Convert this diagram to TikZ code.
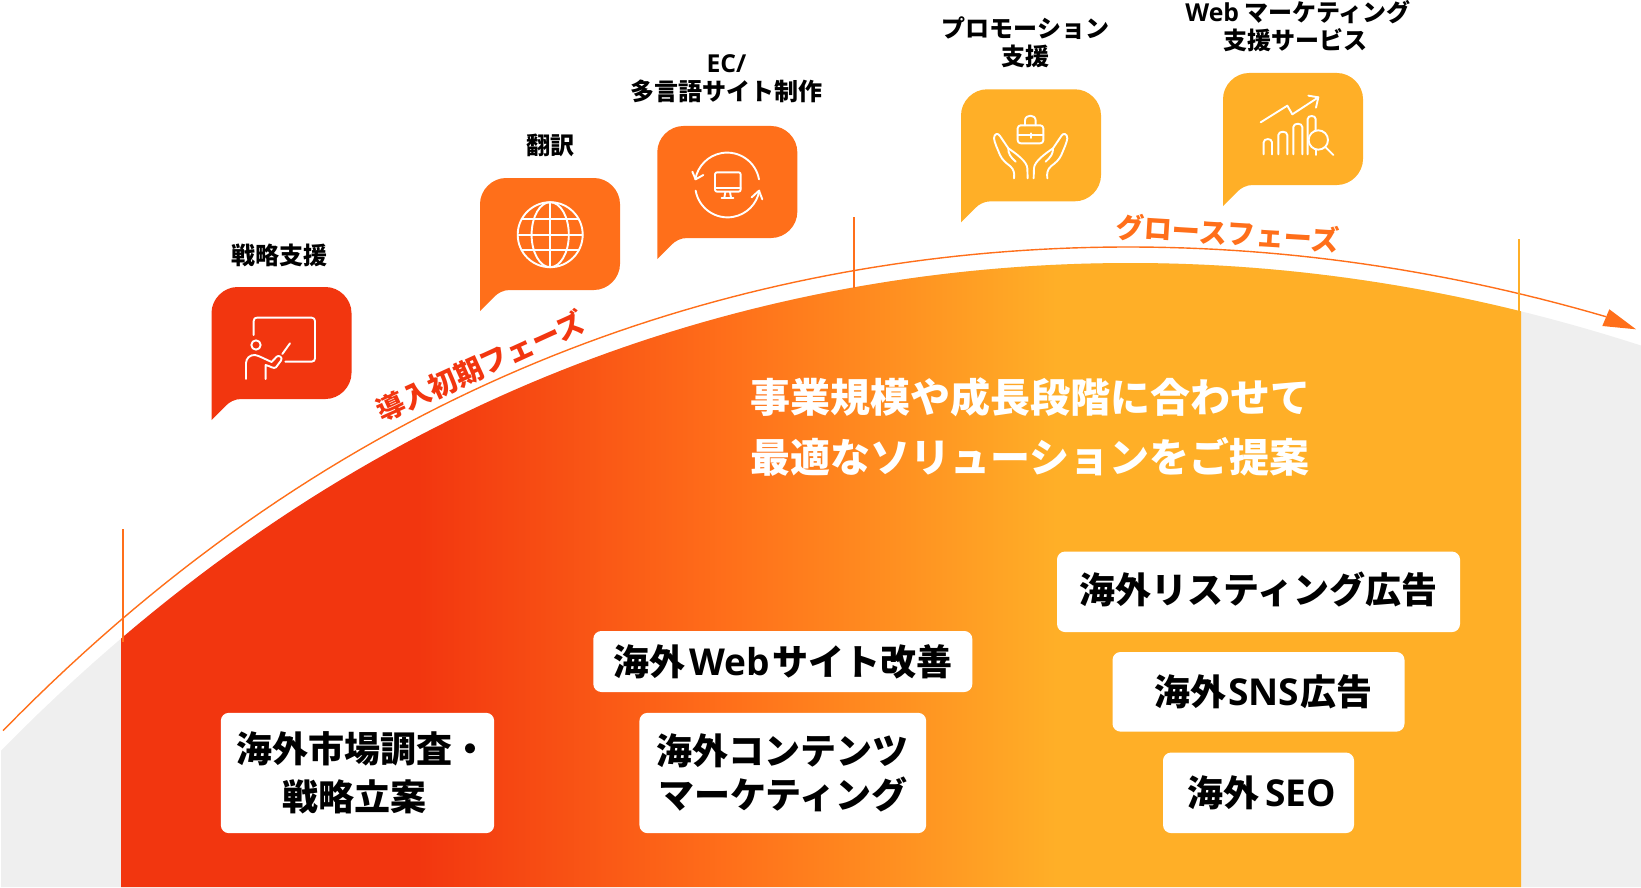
\documentclass[tikz,border=0pt]{standalone}
\usepackage{fontspec}
\setmainfont{Noto Sans CJK JP}
\newfontfamily\latinfont[Scale=1.03]{Open Sans}
\usetikzlibrary{positioning}
\definecolor{phasered}{HTML}{F2360F}
\definecolor{phaseorange}{HTML}{FF6F1A}
\definecolor{phaseyellow}{HTML}{FFAF27}
\definecolor{groundgray}{HTML}{EFEFEF}
\pgfdeclarehorizontalshading{phasegrad}{100bp}{color(0bp)=(phasered); color(35.6bp)=(phasered);
  color(46.7bp)=(phaseorange); color(58.4bp)=(phaseyellow); color(100bp)=(phaseyellow)}
\tikzstyle{boxtext}=[fill=white,rounded corners=8pt,align=center,inner sep=0pt,font=\bfseries\fontsize{36}{49}\selectfont]
\tikzstyle{caption}=[align=center,inner sep=0pt,font=\bfseries\fontsize{24}{28}\selectfont]
\tikzstyle{phasetext}=[inner sep=0pt,font=\bfseries\fontsize{28.3}{32}\selectfont]
\tikzstyle{icon}=[white,line width=1.9pt,line cap=round,line join=round]
\tikzstyle{rule}=[line width=1.4pt]
\newcommand{\newBubble}[3]{\fill[#3,shift={(#1,#2)}] (0,133) -- (0,26) .. controls (0,12) and (12,0) .. (26,0)
  -- (114,0) .. controls (128,0) and (140,12) .. (140,26) -- (140,86) .. controls (140,100) and (128,112) .. (114,112)
  -- (30,112) .. controls (23,112) and (18,115) .. (14,119) -- cycle;}
\newcommand{\newBox}[6]{\node[boxtext,minimum width=#3pt,minimum height=#4pt,#6](#1) at (#2){#5};}
\newcommand{\lat}[1]{{\latinfont #1}}
\begin{document}
\begin{tikzpicture}[x=1pt,y=-1pt,
      declare function={archy(\x)=263+316*((\x-1130)/1000)^2+(\x<1130)*(-1*((\x-1130)/1000)^2+53*((\x-1130)/1000)^4);
        liney(\x)=247+305*((\x-1128)/1000)^2+(\x<1128)*(5*((\x-1128)/1000)^2+57*((\x-1128)/1000)^4);}
      ]
      \useasboundingbox (0,0) rectangle (1641,888);
      % ground
      \fill[groundgray] plot[domain=1:1641,samples=90] (\x,{archy(\x)}) -- (1641,887) -- (1,887) -- cycle;
      \shade[shading=phasegrad] plot[domain=121:1521,samples=90] (\x,{archy(\x)}) -- (1521,887) -- (121,887) -- cycle;
      % growth line
      \draw[phaseorange,rule] plot[domain=3:1606,samples=100] (\x,{liney(\x)});
      \fill[phaseorange] (1609.3,309.3) -- (1602.3,326) -- (1636,329.3) -- cycle;
      \draw[phaseorange,rule] (123,529) -- (123,642);
      \draw[phaseorange,rule] (854,217) -- (854,288);
      \draw[phaseyellow,rule] (1519,239) -- (1519,311);
      % bubbles
      \newBubble{211.5}{287}{phasered}
      \newBubble{480}{178}{phaseorange}
      \newBubble{657.3}{126}{phaseorange}
      \newBubble{961}{89.3}{phaseyellow}
      \newBubble{1223}{73}{phaseyellow}
      % teacher
      \begin{scope}[shift={(200,280)},x=.3333pt,y=-.3333pt,icon]
        \draw (161,165) -- (161,123) .. controls (161,116) and (165,113) .. (171,113) -- (335,113)
          .. controls (341,113) and (345,117) .. (345,123) -- (345,235) .. controls (345,241) and (341,245) .. (335,245) -- (256,245);
        \draw (168,195) circle (14);
        \draw (138,297) -- (138,250) .. controls (138,235) and (150,224) .. (165,225) .. controls (175,226) and (200,240) .. (215,246)
          -- (230,230) .. controls (236,224) and (250,232) .. (243,242) -- (228,262) .. controls (222,268) and (210,258) .. (197,255) -- (197,297);
        \draw (247,222) -- (270,190);
      \end{scope}
      % globe
      \begin{scope}[shift={(550.2,234.7)},icon]
        \draw (0,0) circle (32.5);
        \draw (0,0) ellipse (18.6 and 32.5);
        \draw (0,-32.5) -- (0,32.5);
        \draw (-32.5,0) -- (32.5,0);
        \draw (-28.5,-15.7) -- (28.5,-15.7);
        \draw (-28.5,15.7) -- (28.5,15.7);
      \end{scope}
      % monitor
      \begin{scope}[shift={(650,120)},x=.3333pt,y=-.3333pt,icon]
        \draw (327,178) arc[start angle=-10,end angle=-170,radius=97];
        \draw (137,212) arc[start angle=170,end angle=10,radius=97];
        \draw (127,155) -- (137,178) -- (160,165);
        \draw (305,232) -- (327,212) -- (337,238);
        \draw[rounded corners=2pt] (195,157) rectangle (272,215);
        \draw (195,205) -- (272,205);
        \draw (226,216) -- (223,233);
        \draw (240,216) -- (243,233);
        \draw (215,234) -- (250,234);
      \end{scope}
      % hands
      \begin{scope}[shift={(950,80)},x=.3333pt,y=-.3333pt,icon]
        \draw[rounded corners=3pt] (203,136) rectangle (280,190);
        \draw (225,136) -- (225,122) .. controls (225,102) and (257,102) .. (257,122) -- (257,136);
        \draw (203,166) -- (280,166);
        \draw (242,160) -- (242,174);
        \foreach \m in {1,-1}{
          \begin{scope}[shift={(242,0)},xscale=\m]
            \draw (-50,295) .. controls (-48,280) and (-50,268) .. (-62,258) .. controls (-75,248) and (-85,240) .. (-92,225)
              .. controls (-100,205) and (-108,190) .. (-110,175) .. controls (-110,160) and (-97,158) .. (-92,168)
              -- (-67,205) .. controls (-45,220) and (-10,245) .. (-10,265) -- (-9,295);
            \draw (-67,205) .. controls (-68,220) and (-60,232) .. (-45,245);
          \end{scope}
        }
      \end{scope}
      % chart
      \begin{scope}[shift={(1210,65)},x=.3333pt,y=-.3333pt,icon]
        \draw (152,172) -- (232,122) -- (247,148) -- (325,97);
        \draw (295,92) -- (325,97) -- (318,128);
        \draw (161,268) -- (161,232) .. controls (161,219) and (186,219) .. (186,232) -- (186,268);
        \draw (205,268) -- (205,210) .. controls (205,197) and (232,197) .. (232,210) -- (232,268);
        \draw (250,268) -- (250,186) .. controls (250,173) and (277,173) .. (277,186) -- (277,268);
        \draw (293,268) -- (293,162) .. controls (293,150) and (317,150) .. (317,162) -- (317,196);
        \draw (317,254) -- (317,270);
        \draw (325,225) circle (29);
        \draw (346,246) -- (370,270);
      \end{scope}
      % captions
      \node[caption](capStrategy) at (279.4,255){戦略支援};
      \node[caption](capTranslate) at (550.5,145.5){翻訳};
      \node[caption](capSite) at (726.5,78.5){\lat{EC/}\\多言語サイト制作};
      \node[caption](capPromo) at (1025.6,42.5){プロモーション\\支援};
      \node[caption](capWeb) at (1298,26){\lat{Web} マーケティング\\支援サービス\hspace*{6pt}};
      \node[phasetext,phasered,rotate=24.5](phaseIntro) at (480.6,366){導入初期フェーズ};
      \node[phasetext,phaseorange,rotate=-3.5](phaseGrowth) at (1227.5,233){グロースフェーズ};
      % message
      \node[white,inner sep=0pt,align=left,anchor=west,font=\bfseries\fontsize{40}{60}\selectfont](message) at (750,426.5){事業規模や成長段階に合わせて\\最適なソリューションをご提案};
      % solutions
      \newBox{boxResearch}{357.5,773}{273.3}{120.3}{\hspace*{10pt}海外市場調査・\\[-1.5pt]戦略立案\hspace*{7pt}}{}
      \newBox{boxImprove}{782.8,661.5}{379}{61}{海外\kern4pt\lat{Web}\kern3pt サイト改善}{}
      \newBox{boxContent}{782.8,773}{286.7}{120.3}{海外コンテンツ\\[-5pt]マーケティング}{}
      \newBox{boxListing}{1258.5,591.8}{403}{80.5}{\raisebox{0pt}[27pt][4pt]{海外リスティング広告}}{}
      \newBox{boxSns}{1258.5,691.8}{292}{79.6}{\hspace*{9pt}海外\kern2pt\lat{SNS}\kern1pt 広告}{}
      \newBox{boxSeo}{1258.5,792.8}{191}{80.5}{\,海外\,\lat{SEO}}{}
    \end{tikzpicture}
\end{document}
